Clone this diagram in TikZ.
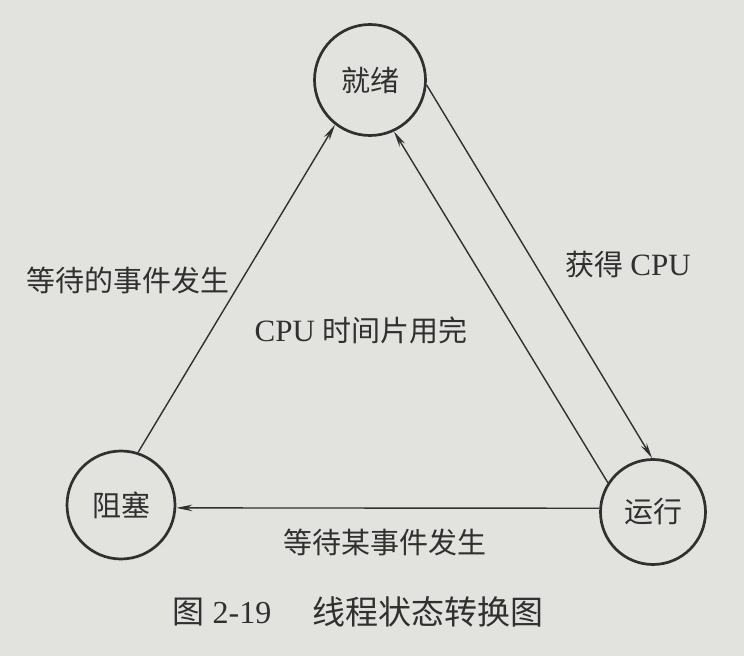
\documentclass[tikz,border=0pt]{standalone}
\usepackage{fontspec}
\setmainfont{Liberation Serif}
\newfontfamily\cjk{Noto Sans CJK SC}
\usetikzlibrary{arrows.meta}
\definecolor{bg}{RGB}{226,226,223}
\definecolor{ink}{RGB}{48,48,48}
\newcommand{\latinbig}[1]{{\fontsize{31}{32}\selectfont #1}}
\begin{document}
\begin{tikzpicture}[x=1pt,y=1pt,
  state/.style={circle,draw=ink,line width=2.7pt,inner sep=0pt,font=\fontsize{29}{30}\selectfont\cjk,text=ink},
  trans/.style={draw=ink,line width=1.4pt,-{Stealth[length=16pt,width=6.5pt]}},
  lbl/.style={font=\fontsize{29}{32}\selectfont,text=ink,inner sep=0pt}]
\fill[bg] (0,0) rectangle (744,656);
\useasboundingbox (0,0) rectangle (744,656);
\node[state,minimum size=111pt] (ready) at (370,576) {就绪};
\node[state,minimum size=105pt] (run) at (653,144) {运行};
\node[state,minimum size=108pt] (block) at (121,151) {阻塞};
\draw[trans] (ready.-5) -- (run.91);
\draw[trans] (run.147) -- (ready.-65);
\draw[trans] (block.72) -- (ready.-128);
\draw[trans] (run.176) -- (block.-3);
\node[lbl] (l1) at (128,376) {\cjk 等待的事件发生};
\node[lbl] (l2) at (361,326) {\latinbig{CPU} {\cjk 时间片用完}};
\node[lbl] (l3) at (628,391) {{\cjk 获得} \latinbig{CPU}};
\node[lbl] (l4) at (385,114) {\cjk 等待某事件发生};
\node[lbl,font=\fontsize{32}{34}\selectfont] (c1) at (222,44) {{\cjk 图} 2-19};
\node[lbl,font=\fontsize{33}{35}\selectfont\cjk] (c2) at (428,44) {线程状态转换图};
\end{tikzpicture}
\end{document}
